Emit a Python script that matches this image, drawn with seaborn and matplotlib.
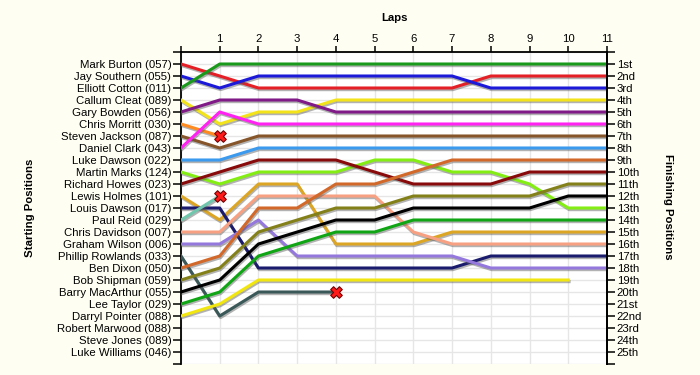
import numpy as np
import pandas as pd
import matplotlib
matplotlib.use("Agg")
import matplotlib.pyplot as plt
import matplotlib.patheffects as pe
import seaborn as sns

nan = np.nan

laps = list(range(12))

starting_labels = [
    "Mark Burton (057)", "Jay Southern (055)", "Elliott Cotton (011)",
    "Callum Cleat (089)", "Gary Bowden (056)", "Chris Morritt (030)",
    "Steven Jackson (087)", "Daniel Clark (043)", "Luke Dawson (022)",
    "Martin Marks (124)", "Richard Howes (023)", "Lewis Holmes (101)",
    "Louis Dawson (017)", "Paul Reid (029)", "Chris Davidson (007)",
    "Graham Wilson (006)", "Phillip Rowlands (033)", "Ben Dixon (050)",
    "Bob Shipman (059)", "Barry MacArthur (055)", "Lee Taylor (029)",
    "Darryl Pointer (088)", "Robert Marwood (088)", "Steve Jones (089)",
    "Luke Williams (046)",
]

finishing_labels = [
    "1st", "2nd", "3rd", "4th", "5th", "6th", "7th", "8th", "9th", "10th",
    "11th", "12th", "13th", "14th", "15th", "16th", "17th", "18th", "19th",
    "20th", "21st", "22nd", "23rd", "24th", "25th",
]

colors = [
    "#e41f26", "#1c1ad8", "#1a9a1a", "#f2e31a", "#7f1a86", "#ff8a1f",
    "#86552a", "#ff22f0", "#3b99ee", "#84ee14", "#880a0a", "#dca624",
    "#1b1b6e", "#6fc6ac", "#f7a182", "#9478dc", "#3a5858", "#d2692a",
    "#83801a", "#000000", "#10a514", "#f2e610",
]

# positions per lap (lap 0 = grid)
p_burton    = [1, 2, 3, 3, 3, 3, 3, 3, 2, 2, 2, 2]
p_southern  = [2, 3, 2, 2, 2, 2, 2, 2, 3, 3, 3, 3]
p_cotton    = [3, 1, 1, 1, 1, 1, 1, 1, 1, 1, 1, 1]
p_cleat     = [4, 6, 5, 5, 4, 4, 4, 4, 4, 4, 4, 4]
p_bowden    = [5, 4, 4, 4, 5, 5, 5, 5, 5, 5, 5, 5]
p_morritt   = [6, 7, nan, nan, nan, nan, nan, nan, nan, nan, nan, nan]
p_jackson   = [7, 8, 7, 7, 7, 7, 7, 7, 7, 7, 7, 7]
p_clark     = [8, 5, 6, 6, 6, 6, 6, 6, 6, 6, 6, 6]
p_ldawson   = [9, 9, 8, 8, 8, 8, 8, 8, 8, 8, 8, 8]
p_marks     = [10, 11, 10, 10, 10, 9, 9, 10, 10, 11, 13, 13]
p_howes     = [11, 10, 9, 9, 9, 10, 11, 11, 11, 10, 10, 10]
p_holmes    = [12, 14, 11, 11, 16, 16, 16, 15, 15, 15, 15, 15]
p_lodawson  = [13, 13, 18, 18, 18, 18, 18, 18, 17, 17, 17, 17]
p_reid      = [14, 12, nan, nan, nan, nan, nan, nan, nan, nan, nan, nan]
p_davidson  = [15, 15, 12, 12, 12, 12, 15, 16, 16, 16, 16, 16]
p_wilson    = [16, 16, 14, 17, 17, 17, 17, 17, 18, 18, 18, 18]
p_rowlands  = [17, 22, 20, 20, 20, nan, nan, nan, nan, nan, nan, nan]
p_dixon     = [18, 17, 13, 13, 11, 11, 10, 9, 9, 9, 9, 9]
p_shipman   = [19, 18, 15, 14, 13, 13, 12, 12, 12, 12, 11, 11]
p_macarthur = [20, 19, 16, 15, 14, 14, 13, 13, 13, 13, 12, 12]
p_taylor    = [21, 20, 17, 16, 15, 15, 14, 14, 14, 14, 14, 14]
p_pointer   = [22, 21, 19, 19, 19, 19, 19, 19, 19, 19, 19, nan]

positions = [
    p_burton, p_southern, p_cotton, p_cleat, p_bowden, p_morritt, p_jackson,
    p_clark, p_ldawson, p_marks, p_howes, p_holmes, p_lodawson, p_reid,
    p_davidson, p_wilson, p_rowlands, p_dixon, p_shipman, p_macarthur,
    p_taylor, p_pointer,
]

retired = ["Chris Morritt (030)", "Paul Reid (029)", "Phillip Rowlands (033)"]

drivers = starting_labels[:len(positions)]

rows = []
for name, pos in zip(drivers, positions):
    for lap, p in zip(laps, pos):
        rows.append({"driver": name, "lap": lap, "pos": p})
df = pd.DataFrame(rows).dropna()

plt.rcParams["font.family"] = ["Liberation Sans", "DejaVu Sans"]

bg = "#fffef3"
fig = plt.figure(figsize=(7.0, 3.75), dpi=100, facecolor=bg)
ax = fig.add_axes([181 / 700, 1 - 364 / 375, (607 - 181) / 700, (364 - 52) / 375])
ax.set_facecolor("white")

palette = dict(zip(drivers, colors))
sns.lineplot(data=df, x="lap", y="pos", hue="driver", hue_order=drivers,
             palette=palette, estimator=None, sort=False, legend=False,
             linewidth=2.2, ax=ax, zorder=3)

for ln in ax.get_lines():
    ln.set_path_effects([
        pe.SimpleLineShadow(offset=(0.6, -1.2), shadow_color="#555555", alpha=0.45),
        pe.Normal(),
    ])
    ln.set_solid_joinstyle("round")

# retirement markers
ret = df[df["driver"].isin(retired)].groupby("driver").last().reset_index()
sns.scatterplot(data=ret, x="lap", y="pos", marker="X", s=70, color="#ff1a1a",
                edgecolor="#7a0000", linewidth=0.8, ax=ax, zorder=5, legend=False)

ax.set_xlim(0, 11)
ax.set_ylim(26, 0)
ax.set_xticks(laps)
ax.set_xticklabels([""] + [str(l) for l in laps[1:]])
ax.xaxis.tick_top()
ax.set_yticks(range(27))
ax.set_yticklabels([""] + starting_labels + [""])
ax.set_xlabel("")
ax.set_ylabel("")
ax.grid(True, color="#e6e6e6", linewidth=1.0, zorder=0)
ax.set_axisbelow(True)

for s in ["left", "top", "right"]:
    ax.spines[s].set_color("black")
    ax.spines[s].set_linewidth(1.3)
ax.spines["bottom"].set_visible(False)

ax.tick_params(axis="y", length=5.5, width=1.1, pad=1.5, labelsize=8.2, colors="black")
ax.tick_params(axis="x", length=4, width=1.1, pad=1.5, labelsize=8.2, colors="black")

ax2 = ax.twinx()
ax2.set_ylim(26, 0)
ax2.set_yticks(range(27))
ax2.set_yticklabels([""] + finishing_labels + [""])
ax2.tick_params(axis="y", length=5.5, width=1.1, pad=1.5, labelsize=8.2, colors="black")
for s in ["left", "top", "bottom"]:
    ax2.spines[s].set_visible(False)
ax2.spines["right"].set_linewidth(1.3)

fig.text(394 / 700, 1 - 18 / 375, "Laps", ha="center", va="center",
         fontsize=8.2, fontweight="bold")
fig.text(30 / 700, 1 - 208 / 375, "Starting Positions", ha="center", va="center",
         rotation=90, fontsize=8.2, fontweight="bold")
fig.text(668 / 700, 1 - 207 / 375, "Finishing Positions", ha="center", va="center",
         rotation=270, fontsize=8.2, fontweight="bold")

fig.savefig("out.png", dpi=100, facecolor=bg)
